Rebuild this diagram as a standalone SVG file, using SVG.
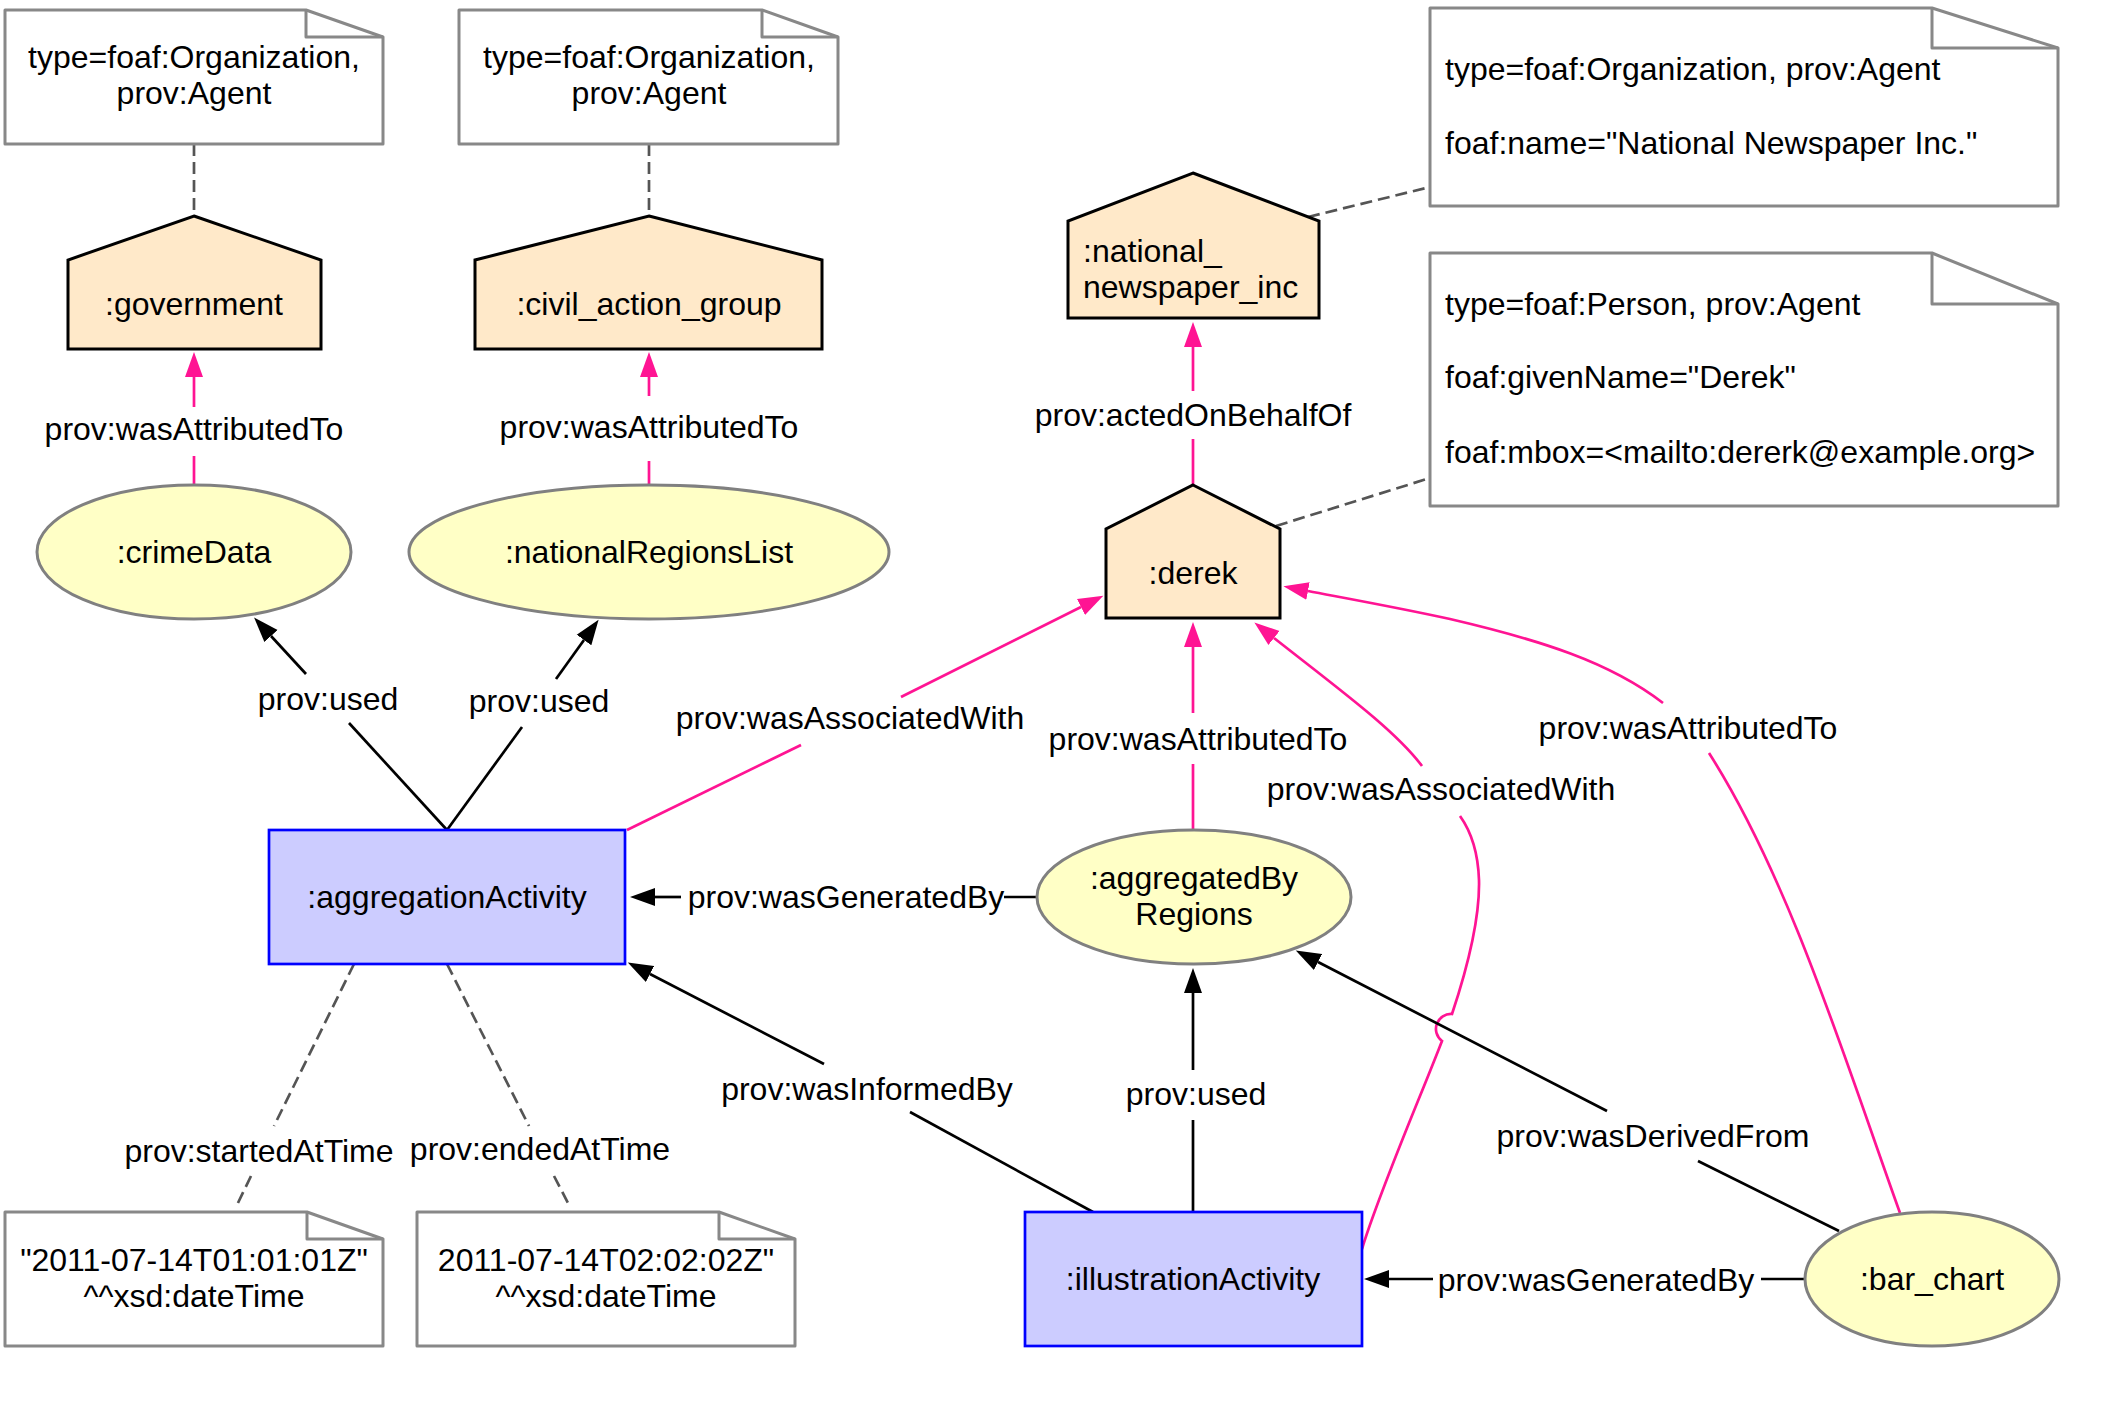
<svg xmlns="http://www.w3.org/2000/svg" width="2124" height="1404" viewBox="0 0 2124 1404">
<style>
text{font-family:"Liberation Sans",Arial,Helvetica,sans-serif;font-size:32px;fill:#000}
.c{text-anchor:middle}
.note{fill:#fff;stroke:#888;stroke-width:3;stroke-linejoin:round}
.fold{fill:none;stroke:#888;stroke-width:3;stroke-linejoin:round}
.agent{fill:#FFE9C9;stroke:#000;stroke-width:3}
.entity{fill:#FFFFC6;stroke:#808080;stroke-width:3}
.activity{fill:#CCCCFF;stroke:#0000FF;stroke-width:2.7}
.e{fill:none;stroke:#000;stroke-width:2.7}
.p{fill:none;stroke:#FF1493;stroke-width:2.7}
.d{fill:none;stroke:#555;stroke-width:2.7;stroke-dasharray:12,6}
.ea{marker-end:url(#ab)}
.pa{marker-end:url(#ap)}
</style>
<defs>
<marker id="ab" markerUnits="userSpaceOnUse" viewBox="0 -10 26 20" refX="0" refY="0" markerWidth="26" markerHeight="20" orient="auto"><path d="M0,-9 L25,0 L0,9 Z" fill="#000"/></marker>
<marker id="ap" markerUnits="userSpaceOnUse" viewBox="0 -10 26 20" refX="0" refY="0" markerWidth="26" markerHeight="20" orient="auto"><path d="M0,-9 L25,0 L0,9 Z" fill="#FF1493"/></marker>
</defs>

<g id="connectors">
<!-- note attachments -->
<path class="d" d="M194,144 L194,216"/>
<path class="d" d="M649,144 L649,216"/>
<path class="d" d="M1308,217 L1430,187"/>
<path class="d" d="M1276,526 L1430,478"/>
<path class="d" d="M354,964 L274,1126"/>
<path class="d" d="M251,1176 L237,1205"/>
<path class="d" d="M447,964 L529,1126"/>
<path class="d" d="M554,1176 L569,1205"/>
<!-- gov attributed -->
<path class="p" d="M194,485 L194,456"/>
<path class="p pa" d="M194,407 L194,377"/>
<!-- civil attributed -->
<path class="p" d="M649,485 L649,461"/>
<path class="p pa" d="M649,396 L649,377"/>
<!-- used crimeData -->
<path class="e" d="M447,830 L349,723"/>
<path class="e ea" d="M306,674 L271,636"/>
<!-- used nationalRegionsList -->
<path class="e" d="M447,830 L522,727"/>
<path class="e ea" d="M556,679 L584,640"/>
<!-- wasAssociatedWith agg -> derek -->
<path class="p" d="M627,830 L801,745"/>
<path class="p pa" d="M901,697 L1081,607"/>
<!-- wasGeneratedBy aggregatedByRegions -> agg -->
<path class="e" d="M1037,897 L1004,897"/>
<path class="e ea" d="M681,897 L655,897"/>
<!-- attributed aggregatedByRegions -> derek -->
<path class="p" d="M1193,830 L1193,764"/>
<path class="p pa" d="M1193,713 L1193,647"/>
<!-- actedOnBehalfOf -->
<path class="p" d="M1193,485 L1193,439"/>
<path class="p pa" d="M1193,391 L1193,347"/>
<!-- wasInformedBy -->
<path class="e" d="M1093,1212 L910,1112"/>
<path class="e ea" d="M824,1064 L650,974"/>
<!-- used illustration -> aggregatedByRegions -->
<path class="e" d="M1193,1212 L1193,1120"/>
<path class="e ea" d="M1193,1070 L1193,993"/>
<!-- wasAssociatedWith illustration -> derek -->
<path class="p" d="M1362,1249 C1380,1190 1420,1098 1442,1041 A15,15 0 0 1 1452,1014 C1465,975 1480,920 1479,880 C1478,850 1470,830 1460,816"/>
<path class="p pa" d="M1422,766 C1395,730 1340,690 1274,638"/>
<!-- wasAttributedTo bar_chart -> derek -->
<path class="p" d="M1900,1213 C1845,1060 1790,880 1709,753"/>
<path class="p pa" d="M1663,703 C1610,662 1540,640 1450,619 C1400,608 1350,599 1308,591"/>
<!-- wasGeneratedBy bar_chart -> illustration -->
<path class="e" d="M1805,1279 L1761,1279"/>
<path class="e ea" d="M1433,1279 L1389,1279"/>
<!-- wasDerivedFrom -->
<path class="e" d="M1839,1231 L1698,1161"/>
<path class="e ea" d="M1607,1111 L1318,962"/>

<g id="edge-labels">
<text class="c" x="194" y="440">prov:wasAttributedTo</text>
<text class="c" x="649" y="438">prov:wasAttributedTo</text>
<text class="c" x="328" y="710">prov:used</text>
<text class="c" x="539" y="712">prov:used</text>
<text class="c" x="850" y="729">prov:wasAssociatedWith</text>
<text class="c" x="846" y="908">prov:wasGeneratedBy</text>
<text class="c" x="1198" y="750">prov:wasAttributedTo</text>
<text class="c" x="1193" y="426">prov:actedOnBehalfOf</text>
<text class="c" x="867" y="1100">prov:wasInformedBy</text>
<text class="c" x="1196" y="1105">prov:used</text>
<text class="c" x="1441" y="800">prov:wasAssociatedWith</text>
<text class="c" x="1688" y="739">prov:wasAttributedTo</text>
<text class="c" x="1596" y="1291">prov:wasGeneratedBy</text>
<text class="c" x="1653" y="1147">prov:wasDerivedFrom</text>
<text class="c" x="259" y="1162">prov:startedAtTime</text>
<text class="c" x="540" y="1160">prov:endedAtTime</text>
</g>
</g>

<g id="note-government">
<path class="note" d="M5,10 L306,10 L383,37 L383,144 L5,144 Z"/>
<path class="fold" d="M306,10 L306,37 L383,37"/>
<text class="c" x="194" y="68">type=foaf:Organization,</text>
<text class="c" x="194" y="104">prov:Agent</text>
</g>
<g id="note-civil">
<path class="note" d="M459,10 L762,10 L838,37 L838,144 L459,144 Z"/>
<path class="fold" d="M762,10 L762,37 L838,37"/>
<text class="c" x="649" y="68">type=foaf:Organization,</text>
<text class="c" x="649" y="104">prov:Agent</text>
</g>
<g id="note-newspaper">
<path class="note" d="M1430,8 L1932,8 L2058,48 L2058,206 L1430,206 Z"/>
<path class="fold" d="M1932,8 L1932,48 L2058,48"/>
<text x="1445" y="80">type=foaf:Organization, prov:Agent</text>
<text x="1445" y="154">foaf:name="National Newspaper Inc."</text>
</g>
<g id="note-derek">
<path class="note" d="M1430,253 L1932,253 L2058,304 L2058,506 L1430,506 Z"/>
<path class="fold" d="M1932,253 L1932,304 L2058,304"/>
<text x="1445" y="315">type=foaf:Person, prov:Agent</text>
<text x="1445" y="388">foaf:givenName="Derek"</text>
<text x="1445" y="463">foaf:mbox=&lt;mailto:dererk@example.org&gt;</text>
</g>
<g id="note-start">
<path class="note" d="M5,1212 L307,1212 L383,1239 L383,1346 L5,1346 Z"/>
<path class="fold" d="M307,1212 L307,1239 L383,1239"/>
<text class="c" x="194" y="1271">"2011-07-14T01:01:01Z"</text>
<text class="c" x="194" y="1307">^^xsd:dateTime</text>
</g>
<g id="note-end">
<path class="note" d="M417,1212 L719,1212 L795,1239 L795,1346 L417,1346 Z"/>
<path class="fold" d="M719,1212 L719,1239 L795,1239"/>
<text class="c" x="606" y="1271">2011-07-14T02:02:02Z"</text>
<text class="c" x="606" y="1307">^^xsd:dateTime</text>
</g>

<g id="government">
<path class="agent" d="M194,216 L321,260 L321,349 L68,349 L68,260 Z"/>
<text class="c" x="194" y="315">:government</text>
</g>
<g id="civil_action_group">
<path class="agent" d="M649,216 L822,260 L822,349 L475,349 L475,260 Z"/>
<text class="c" x="649" y="315">:civil_action_group</text>
</g>
<g id="national_newspaper_inc">
<path class="agent" d="M1193,173 L1319,221 L1319,318 L1068,318 L1068,221 Z"/>
<text x="1083" y="262">:national_</text>
<text x="1083" y="298">newspaper_inc</text>
</g>
<g id="derek">
<path class="agent" d="M1193,485 L1280,529 L1280,618 L1106,618 L1106,529 Z"/>
<text class="c" x="1193" y="584">:derek</text>
</g>
<g id="crimeData">
<ellipse class="entity" cx="194" cy="552" rx="157" ry="67"/>
<text class="c" x="194" y="563">:crimeData</text>
</g>
<g id="nationalRegionsList">
<ellipse class="entity" cx="649" cy="552" rx="240" ry="67"/>
<text class="c" x="649" y="563">:nationalRegionsList</text>
</g>
<g id="aggregationActivity">
<rect class="activity" x="269" y="830" width="356" height="134"/>
<text class="c" x="447" y="908">:aggregationActivity</text>
</g>
<g id="aggregatedByRegions">
<ellipse class="entity" cx="1194" cy="897" rx="157" ry="67"/>
<text class="c" x="1194" y="889">:aggregatedBy</text>
<text class="c" x="1194" y="925">Regions</text>
</g>
<g id="illustrationActivity">
<rect class="activity" x="1025" y="1212" width="337" height="134"/>
<text class="c" x="1193" y="1290">:illustrationActivity</text>
</g>
<g id="bar_chart">
<ellipse class="entity" cx="1932" cy="1279" rx="127" ry="67"/>
<text class="c" x="1932" y="1290">:bar_chart</text>
</g>
</svg>
